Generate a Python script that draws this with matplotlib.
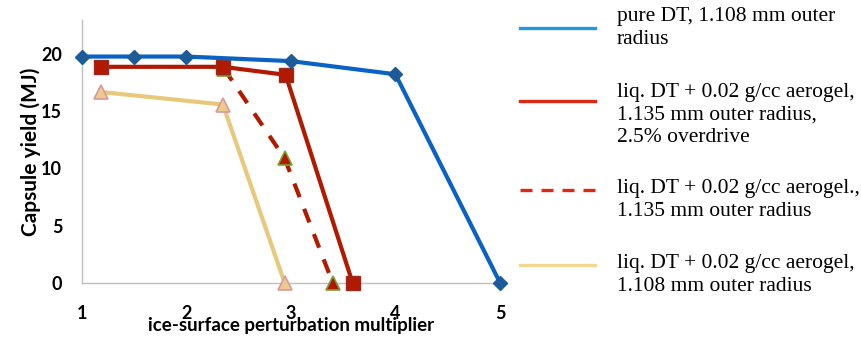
import matplotlib
matplotlib.use("Agg")
import matplotlib.pyplot as plt
from matplotlib.lines import Line2D

# data
pure_x = [1, 1.5, 2, 3, 4, 5]
pure_y = [19.8, 19.8, 19.8, 19.4, 18.25, 0]

od_x = [1.18, 2.35, 2.95, 3.59]
od_y = [18.9, 18.9, 18.2, 0]

liq135_x = [2.36, 2.94, 3.40]
liq135_y = [18.75, 10.9, 0]

liq108_x = [1.18, 2.35, 2.94]
liq108_y = [16.7, 15.6, 0]

legend_labels = [
    "pure DT, 1.108 mm outer\nradius",
    "liq. DT + 0.02 g/cc aerogel,\n1.135 mm outer radius,\n2.5% overdrive",
    "liq. DT + 0.02 g/cc aerogel.,\n1.135 mm outer radius",
    "liq. DT + 0.02 g/cc aerogel,\n1.108 mm outer radius",
]
xticks = [1, 2, 3, 4, 5]
yticks = [0, 5, 10, 15, 20]

sans = ["Lato", "DejaVu Sans"]
serif = ["Liberation Serif", "DejaVu Serif"]

fig = plt.figure(figsize=(8.61, 3.39), dpi=100)
ax = fig.add_axes([81.7 / 861, 1 - 282.7 / 339, (500 - 81.7) / 861, (282.7 - 20) / 339])

ax.plot(liq108_x, liq108_y, color="#E8C97C", lw=3, marker="^", ms=9.5,
        mfc="#EBCB90", mec="#D99A9A", mew=1.2, clip_on=False, zorder=3)
ax.plot(liq135_x, liq135_y, color="#B21A00", lw=3, ls=(0, (3.5, 3)), marker="^", ms=9.5,
        mfc="#B01800", mec="#7AA030", mew=1.2, clip_on=False, zorder=4)
ax.plot(od_x, od_y, color="#B21A00", lw=3, marker="s", ms=10,
        mfc="#B21A00", mec="#9A2A20", mew=1, clip_on=False, zorder=5)
ax.plot(pure_x, pure_y, color="#0A62C4", lw=3, marker="D", ms=7.5,
        mfc="#1D5A98", mec="#1D5A98", clip_on=False, zorder=6)

ax.set_xlim(1, 5)
ax.set_ylim(0, 23)
ax.set_xticks(xticks)
ax.set_yticks(yticks)
ax.tick_params(axis="x", length=0, pad=16)
ax.tick_params(axis="y", length=0, pad=14)
for lab in ax.get_xticklabels() + ax.get_yticklabels():
    lab.set_family(sans)
    lab.set_fontweight("bold")
    lab.set_fontsize(13)
for s in ["top", "right"]:
    ax.spines[s].set_visible(False)
for s in ["left", "bottom"]:
    ax.spines[s].set_color("#BFBFBF")
    ax.spines[s].set_linewidth(1)

ax.set_ylabel("Capsule yield (MJ)", family=sans, fontweight="bold", fontsize=15, labelpad=0)
ax.set_xlabel("ice-surface perturbation multiplier", family=sans, fontweight="bold",
              fontsize=13.5, labelpad=-3.5)

# legend drawn by hand to follow the reference layout
leg_colors = ["#1E9BE0", "#DC2814", "#DC2814", "#F2D88E"]
leg_styles = ["-", "-", (0, (3.6, 2.7)), "-"]
sample_y = [28, 101, 190, 265]
text_top = [7.5, 82.5, 179, 254]
for c, st, yy, ty, lab in zip(leg_colors, leg_styles, sample_y, text_top, legend_labels):
    fig.add_artist(Line2D([520 / 861, 595 / 861], [1 - yy / 339, 1 - yy / 339],
                          color=c, lw=2.4, ls=st, transform=fig.transFigure))
    fig.text(617 / 861, 1 - ty / 339, lab, family=serif, fontsize=15.5,
             va="top", ha="left", linespacing=1.28)

fig.savefig("out.png", dpi=100)
